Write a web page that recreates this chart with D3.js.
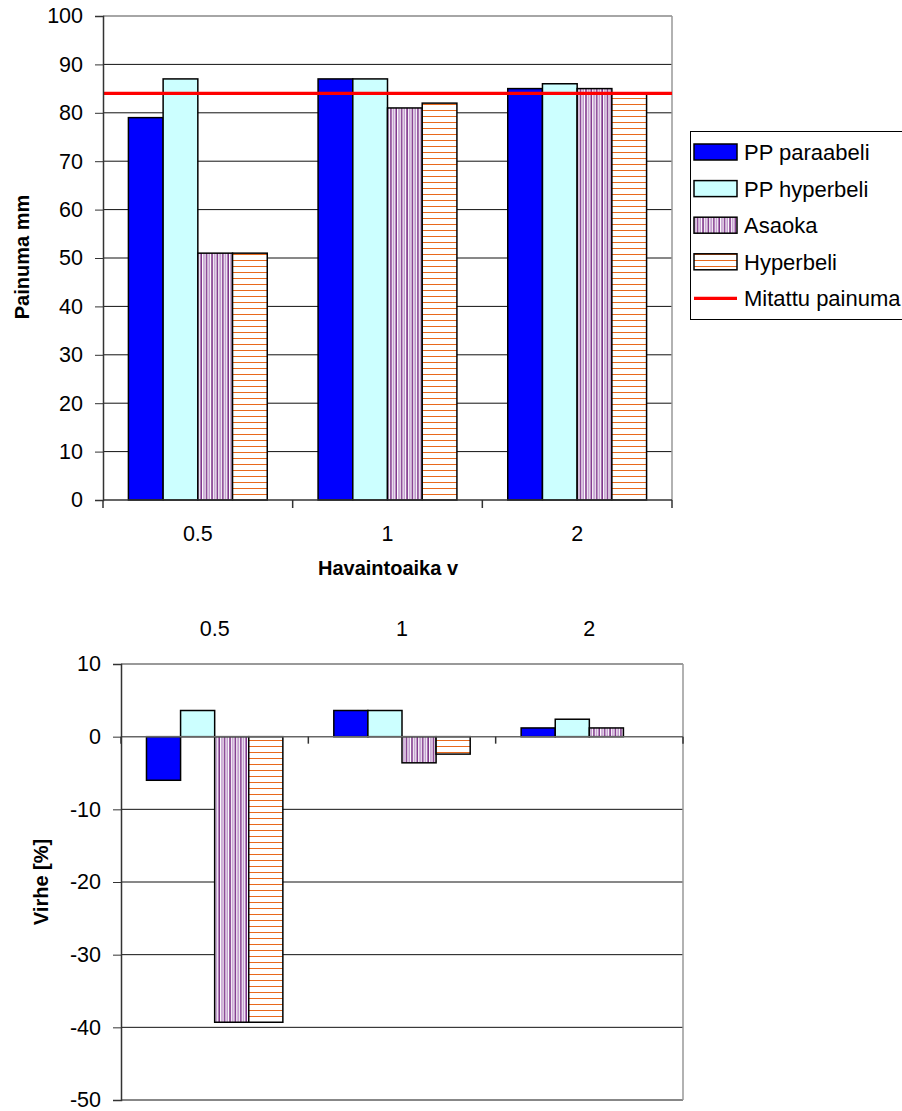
<!DOCTYPE html>
<html>
<head>
<meta charset="utf-8">
<script src="https://cdn.jsdelivr.net/npm/d3@7"></script>
<style>
  html, body { margin: 0; padding: 0; background: #fff; }
  svg { display: block; font-family: Arial, "Liberation Sans", sans-serif; }
</style>
</head>
<body>
<svg id="chart" width="902" height="1111"></svg>
<script>
// Observation times (years)
const categories = ["0.5", "1", "2"];
const seriesNames = ["PP paraabeli", "PP hyperbeli", "Asaoka", "Hyperbeli"];

// Predicted settlement, mm
const ppParaabeli = [79, 87, 85];
const ppHyperbeli = [87, 87, 86];
const asaoka = [51, 81, 85];
const hyperbeli = [51, 82, 84];
// Measured settlement, mm
const measured = 84;

// Prediction error, %
const errPPParaabeli = [-6.0, 3.6, 1.2];
const errPPHyperbeli = [3.6, 3.6, 2.4];
const errAsaoka = [-39.3, -3.6, 1.2];
const errHyperbeli = [-39.3, -2.4, 0];

const topTicks = [0, 10, 20, 30, 40, 50, 60, 70, 80, 90, 100];
const bottomTicks = [10, 0, -10, -20, -30, -40, -50];

const svg = d3.select("#chart");
const plainNum = d => String(d);
const tickFont = 21.5;

// Fill patterns for the two hatched series
const defs = svg.append("defs");
const pv = defs.append("pattern").attr("id", "vstripe")
  .attr("patternUnits", "userSpaceOnUse").attr("width", 5.4).attr("height", 10);
pv.append("rect").attr("width", 5.4).attr("height", 10).attr("fill", "#fff");
pv.append("rect").attr("x", 0.3).attr("width", 1.4).attr("height", 10).attr("fill", "#6e1a7c");
pv.append("rect").attr("x", 3.0).attr("width", 1.4).attr("height", 10).attr("fill", "#b88cc6");
const ph = defs.append("pattern").attr("id", "hstripe")
  .attr("patternUnits", "userSpaceOnUse").attr("width", 10).attr("height", 6);
ph.append("rect").attr("width", 10).attr("height", 6).attr("fill", "#fff");
ph.append("rect").attr("y", 2).attr("width", 10).attr("height", 1).attr("fill", "#e8691c");

const fills = ["#0000ff", "#ccffff", "url(#vstripe)", "url(#hstripe)"];

function rows(arrs) {
  return categories.map((c, i) => ({ cat: c, vals: arrs.map((a, k) => ({ key: seriesNames[k], k, v: a[i] })) }));
}

// ---------- Upper chart: settlement ----------
{
  const L = 103, R = 672, T = 16, B = 500;
  const x = d3.scaleBand().domain(categories).range([L, R]);
  const bw = x.bandwidth();
  const xs = d3.scaleBand().domain(seriesNames).range([bw * 0.134, bw * 0.866]);
  const y = d3.scaleLinear().domain([0, 100]).range([B, T]);
  const g = svg.append("g");

  // gridlines
  g.selectAll("line.grid").data(topTicks.filter(t => t > 0 && t < 100)).enter().append("line")
    .attr("x1", L).attr("x2", R).attr("y1", d => y(d)).attr("y2", d => y(d))
    .attr("stroke", "#111").attr("stroke-width", 1);
  // plot border top/right
  g.append("line").attr("x1", L).attr("x2", R).attr("y1", y(100)).attr("y2", y(100)).attr("stroke", "#888").attr("stroke-width", 1.5);
  g.append("line").attr("x1", R).attr("x2", R).attr("y1", T).attr("y2", B).attr("stroke", "#999").attr("stroke-width", 1.5);

  // bars
  const data = rows([ppParaabeli, ppHyperbeli, asaoka, hyperbeli]);
  const grp = g.selectAll("g.cat").data(data).enter().append("g")
    .attr("transform", d => `translate(${x(d.cat)},0)`);
  grp.selectAll("rect").data(d => d.vals).enter().append("rect")
    .attr("x", d => xs(d.key)).attr("width", xs.bandwidth())
    .attr("y", d => y(d.v)).attr("height", d => y(0) - y(d.v))
    .attr("fill", d => fills[d.k]).attr("stroke", "#000").attr("stroke-width", 1.5);

  // measured level
  g.append("line").attr("x1", L).attr("x2", R).attr("y1", y(measured)).attr("y2", y(measured))
    .attr("stroke", "#ff0000").attr("stroke-width", 3.3);

  // y axis
  const ya = g.append("g").attr("transform", `translate(${L},0)`)
    .call(d3.axisLeft(y).tickValues(topTicks).tickFormat(plainNum).tickSize(8).tickPadding(12));
  ya.select(".domain").attr("stroke", "#333").attr("stroke-width", 1.5);
  ya.selectAll(".tick line").attr("stroke", "#333");
  ya.selectAll("text").attr("font-size", tickFont).attr("fill", "#000").attr("font-family", "Arial, 'Liberation Sans', sans-serif");

  // x axis
  const xa = g.append("g").attr("transform", `translate(0,${B})`)
    .call(d3.axisBottom(x).tickSize(0).tickPadding(26));
  xa.select(".domain").remove();
  xa.selectAll("text").attr("font-size", tickFont).attr("fill", "#000").attr("font-family", "Arial, 'Liberation Sans', sans-serif");
  g.append("line").attr("x1", L).attr("x2", R).attr("y1", B).attr("y2", B).attr("stroke", "#333").attr("stroke-width", 1.5);
  g.selectAll("line.xt").data(d3.range(categories.length + 1)).enter().append("line")
    .attr("x1", i => L + i * bw).attr("x2", i => L + i * bw)
    .attr("y1", B).attr("y2", B + 8).attr("stroke", "#333").attr("stroke-width", 1.5);

  g.append("text").attr("x", 388).attr("y", 575).attr("text-anchor", "middle")
    .attr("font-size", 20).attr("font-weight", "bold").text("Havaintoaika v");
  g.append("text").attr("transform", "translate(29,257) rotate(-90)").attr("text-anchor", "middle")
    .attr("font-size", 20).attr("font-weight", "bold").text("Painuma mm");

  // legend
  const lg = svg.append("g");
  lg.append("rect").attr("x", 690.5).attr("y", 131.5).attr("width", 240).attr("height", 188)
    .attr("fill", "#fff").attr("stroke", "#000").attr("stroke-width", 1);
  const items = seriesNames.concat(["Mitattu painuma"]);
  const rowY = i => 152 + i * 36.6;
  items.forEach((name, i) => {
    if (i < 4) {
      lg.append("rect").attr("x", 694).attr("y", rowY(i) - 8).attr("width", 43).attr("height", 16)
        .attr("fill", fills[i]).attr("stroke", "#000").attr("stroke-width", 1.5);
    } else {
      lg.append("line").attr("x1", 694).attr("x2", 737).attr("y1", rowY(i)).attr("y2", rowY(i))
        .attr("stroke", "#ff0000").attr("stroke-width", 3.3);
    }
    lg.append("text").attr("x", 744).attr("y", rowY(i) + 8).attr("font-size", 22).text(name);
  });
}

// ---------- Lower chart: error ----------
{
  const L = 121, R = 683, T = 664, B = 1100;
  const x = d3.scaleBand().domain(categories).range([L, R]);
  const bw = x.bandwidth();
  const xs = d3.scaleBand().domain(seriesNames).range([bw * 0.136, bw * 0.864]);
  const y = d3.scaleLinear().domain([-50, 10]).range([B, T]);
  const g = svg.append("g");

  g.selectAll("line.grid").data(bottomTicks.filter(t => t !== 0 && t !== 10)).enter().append("line")
    .attr("x1", L).attr("x2", R).attr("y1", d => y(d)).attr("y2", d => y(d))
    .attr("stroke", "#111").attr("stroke-width", 1);
  g.append("line").attr("x1", L).attr("x2", R).attr("y1", y(10)).attr("y2", y(10)).attr("stroke", "#777").attr("stroke-width", 1.5);
  g.append("line").attr("x1", R).attr("x2", R).attr("y1", T).attr("y2", B).attr("stroke", "#999").attr("stroke-width", 1.5);

  const data = rows([errPPParaabeli, errPPHyperbeli, errAsaoka, errHyperbeli]);
  const grp = g.selectAll("g.cat").data(data).enter().append("g")
    .attr("transform", d => `translate(${x(d.cat)},0)`);
  grp.selectAll("rect").data(d => d.vals.filter(v => v.v !== 0)).enter().append("rect")
    .attr("x", d => xs(d.key)).attr("width", xs.bandwidth())
    .attr("y", d => y(Math.max(0, d.v))).attr("height", d => Math.abs(y(d.v) - y(0)))
    .attr("fill", d => fills[d.k]).attr("stroke", "#000").attr("stroke-width", 1.5);

  // category axis on zero line
  g.append("line").attr("x1", L).attr("x2", R).attr("y1", y(0)).attr("y2", y(0)).attr("stroke", "#666").attr("stroke-width", 1.5);
  g.selectAll("line.xt").data(d3.range(categories.length + 1)).enter().append("line")
    .attr("x1", i => L + i * bw).attr("x2", i => L + i * bw)
    .attr("y1", y(0)).attr("y2", y(0) + 7).attr("stroke", "#333").attr("stroke-width", 1.5);
  g.selectAll("text.cat").data(categories).enter().append("text")
    .attr("x", d => x(d) + bw / 2).attr("y", 636).attr("text-anchor", "middle")
    .attr("font-size", tickFont).text(d => d);

  const ya = g.append("g").attr("transform", `translate(${L},0)`)
    .call(d3.axisLeft(y).tickValues(bottomTicks).tickFormat(plainNum).tickSize(8).tickPadding(12));
  ya.select(".domain").attr("stroke", "#333").attr("stroke-width", 1.5);
  ya.selectAll(".tick line").attr("stroke", "#333");
  ya.selectAll("text").attr("font-size", tickFont).attr("fill", "#000").attr("font-family", "Arial, 'Liberation Sans', sans-serif");

  g.append("text").attr("transform", "translate(48,882) rotate(-90)").attr("text-anchor", "middle")
    .attr("font-size", 20).attr("font-weight", "bold").text("Virhe [%]");
}
</script>
</body>
</html>
